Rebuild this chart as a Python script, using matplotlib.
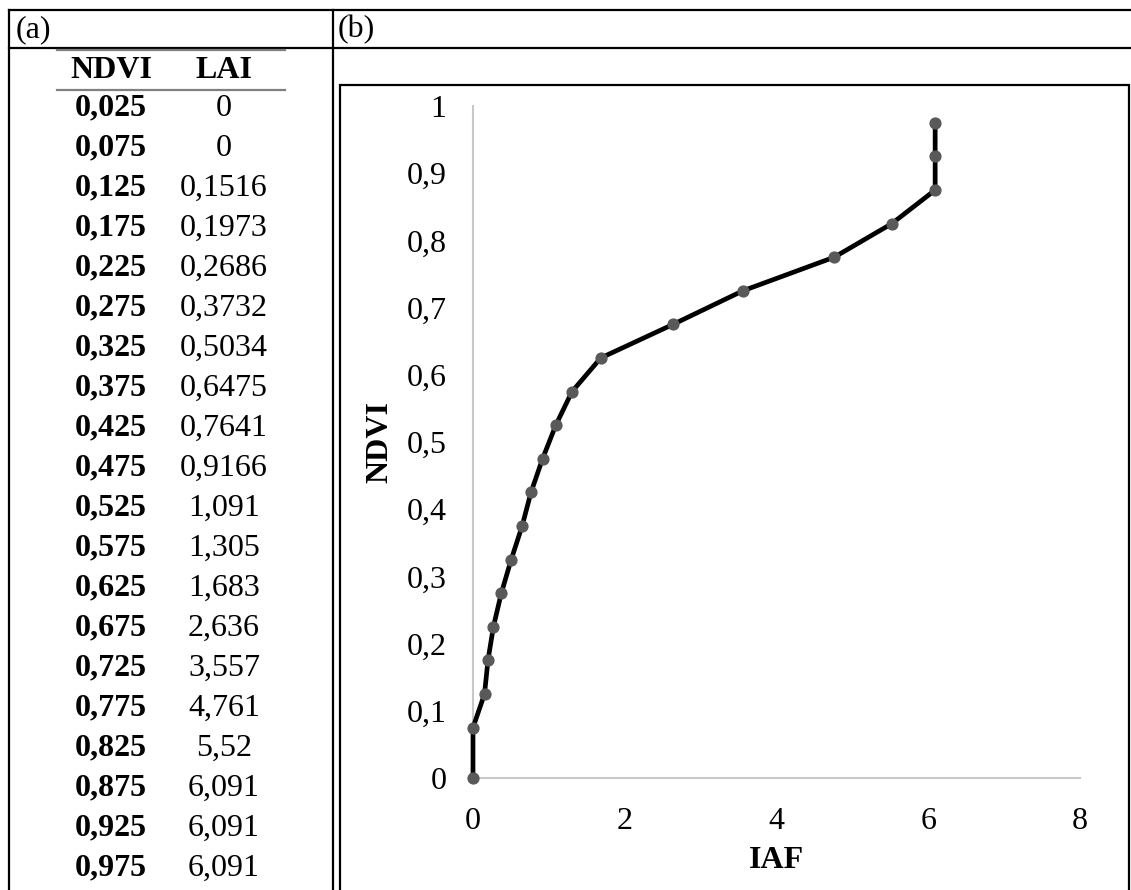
import matplotlib
matplotlib.use("Agg")
import matplotlib.pyplot as plt
from matplotlib.lines import Line2D
from matplotlib.patches import Rectangle
from matplotlib.ticker import FuncFormatter, MultipleLocator

W, H = 1131, 890

NDVI = [0.025, 0.075, 0.125, 0.175, 0.225, 0.275, 0.325, 0.375, 0.425, 0.475,
        0.525, 0.575, 0.625, 0.675, 0.725, 0.775, 0.825, 0.875, 0.925, 0.975]
LAI = [0, 0, 0.1516, 0.1973, 0.2686, 0.3732, 0.5034, 0.6475, 0.7641, 0.9166,
       1.091, 1.305, 1.683, 2.636, 3.557, 4.761, 5.52, 6.091, 6.091, 6.091]
# the chart starts its curve at the origin instead of 0,025
NDVI_PLOT = [0.0] + NDVI[1:]

plt.rcParams['font.family'] = ['Liberation Serif', 'DejaVu Serif']
FS = 23


def fx(x):
    return x / W


def fy(y):
    return 1 - y / H


def fmt(v, pos):
    s = "{:g}".format(round(v, 3))
    return s.replace(".", ",")


def cell(v):
    return "{:g}".format(v).replace(".", ",")


fig = plt.figure(figsize=(W / 100, H / 100), dpi=100)

# frame of the two-cell table
def hline(y, x0, x1, color="black", lw=1.6):
    fig.add_artist(Line2D([fx(x0), fx(x1)], [fy(y), fy(y)], color=color, lw=lw))


def vline(x, y0, y1, color="black", lw=1.6):
    fig.add_artist(Line2D([fx(x), fx(x)], [fy(y0), fy(y1)], color=color, lw=lw))


hline(10, 9, W)
hline(48, 9, W)
vline(9, 10, H)
vline(333, 10, H)

fig.text(fx(16), fy(30), "(a)", fontsize=FS, ha="left", va="center")
fig.text(fx(338), fy(30), "(b)", fontsize=FS, ha="left", va="center")

# table (a)
hline(50, 57, 285, color="#808080", lw=1.6)
hline(90, 57, 285, color="#808080", lw=1.6)
fig.text(fx(111), fy(70), "NDVI", fontsize=FS, fontweight="bold", ha="center", va="center")
fig.text(fx(224), fy(70), "LAI", fontsize=FS, fontweight="bold", ha="center", va="center")

for i, (n, l) in enumerate(zip(NDVI, LAI)):
    y = 108 + i * 40
    fig.text(fx(111), fy(y), cell(n), fontsize=FS, fontweight="bold",
             ha="center", va="center")
    fig.text(fx(224), fy(y), cell(l), fontsize=FS, ha="center", va="center")

# chart (b) border
fig.add_artist(Rectangle((fx(340), fy(H + 10)), fx(1129) - fx(340), fy(85) - fy(H + 10),
                         transform=fig.transFigure, fill=False, edgecolor="black", lw=1.6))

x0, x1, y0, y1 = 473, 1080, 778, 106
ax = fig.add_axes([fx(x0), fy(y0), fx(x1) - fx(x0), fy(y1) - fy(y0)])
ax.plot(LAI, NDVI_PLOT, color="black", lw=3.4, marker="o", markersize=7.8,
        markerfacecolor="#595959", markeredgecolor="#595959", zorder=3,
        clip_on=False)

ax.set_xlim(0, 8)
ax.set_ylim(0, 1)
ax.xaxis.set_major_locator(MultipleLocator(2))
ax.yaxis.set_major_locator(MultipleLocator(0.1))
ax.xaxis.set_major_formatter(FuncFormatter(fmt))
ax.yaxis.set_major_formatter(FuncFormatter(fmt))
ax.tick_params(length=0, labelsize=FS)
ax.tick_params(axis="x", pad=21)
ax.tick_params(axis="y", pad=19)

for side in ["top", "right"]:
    ax.spines[side].set_visible(False)
for side in ["left", "bottom"]:
    ax.spines[side].set_color("#C8C8C8")
    ax.spines[side].set_linewidth(1.5)

ax.set_xlabel("IAF", fontsize=FS, fontweight="bold", va="center")
ax.set_ylabel("NDVI", fontsize=FS, fontweight="bold", va="center")
ax.xaxis.set_label_coords(0.5, (y0 - 861) / (y0 - y1))
ax.yaxis.set_label_coords((380 - x0) / (x1 - x0), (y0 - 442) / (y0 - y1))

fig.savefig("out.png", dpi=100)
